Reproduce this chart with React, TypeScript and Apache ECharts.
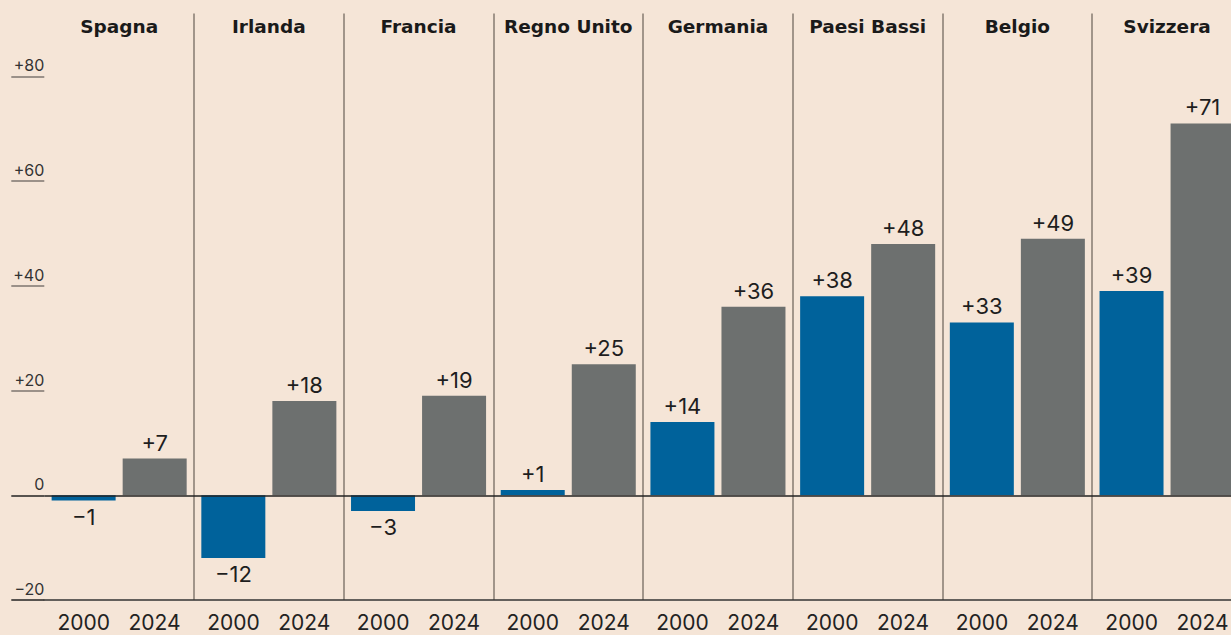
import React, { useEffect, useRef } from "react";
import * as echarts from "echarts";

const countries = ["Spagna", "Irlanda", "Francia", "Regno Unito", "Germania", "Paesi Bassi", "Belgio", "Svizzera"];
const years = ["2000", "2024"];
const values2000 = [-1, -12, -3, 1, 14, 38, 33, 39];
const values2024 = [7, 18, 19, 25, 36, 48, 49, 71];
const yTickValues = [-20, 0, 20, 40, 60, 80];

const FONT = "Inter, 'Noto Sans', sans-serif";
const BOLD_FONT = "'DejaVu Sans', sans-serif";

const fmt = (v: number) => (v > 0 ? "+" + v : v < 0 ? "\u2212" + Math.abs(v) : "0");

export default function App() {
  const ref = useRef<HTMLDivElement>(null);
  useEffect(() => {
    document.body.style.margin = "0";
    const chart = echarts.init(ref.current!, null, { renderer: "svg" });
    const yearCats: string[] = [];
    countries.forEach(() => years.forEach((y) => yearCats.push(y)));
    const mkData = (arr: number[]) =>
      arr.map((v) => ({ value: v, label: { position: v < 0 ? "bottom" : "top" } }));
    const labelStyle = {
      show: true,
      formatter: (p: any) => fmt(p.value),
      fontFamily: FONT,
      fontSize: 22,
      color: "#1e1e1e",
      distance: 5,
    };
    chart.setOption({
      animation: false,
      backgroundColor: "#F5E5D7",
      textStyle: { fontFamily: FONT },
      grid: {
        left: 44.3,
        top: 13.5,
        width: 1197.6,
        height: 586.5,
        outerBoundsMode: "none",
        containLabel: false,
      },
      xAxis: [
        {
          type: "category",
          data: countries,
          position: "top",
          axisLine: { show: false, onZero: false },
          axisTick: { show: false },
          axisLabel: {
            inside: true,
            margin: 3,
            fontFamily: BOLD_FONT,
            fontSize: 18.5,
            fontWeight: "bold",
            color: "#1a1a1a",
            interval: 0,
          },
          splitLine: { show: true, showMinLine: false, lineStyle: { color: "#857a71", width: 1.5 } },
        },
        {
          type: "category",
          data: yearCats,
          position: "bottom",
          axisLine: { show: true, onZero: false, lineStyle: { color: "#333333", width: 1.5 } },
          axisTick: { show: false },
          splitLine: { show: false },
          axisLabel: {
            interval: 0,
            margin: 12,
            formatter: (v: string) => (v === "2000" ? "{a|" + v + "}" : "{b|" + v + "}"),
            rich: {
              a: { fontFamily: FONT, fontSize: 21, color: "#222222", padding: [0, 0, 0, 4] },
              b: { fontFamily: FONT, fontSize: 21, color: "#222222", padding: [0, 4, 0, 0] },
            },
          },
        },
      ],
      yAxis: [
        {
          type: "value",
          min: -20,
          max: 92,
          position: "left",
          axisLine: { show: false },
          splitLine: { show: false },
          axisTick: {
            show: true,
            inside: false,
            length: 33,
            customValues: [20, 40, 60, 80],
            lineStyle: { color: "#7d756f", width: 1.5 },
          },
          axisLabel: {
            show: true,
            customValues: yTickValues,
            formatter: (v: number) => fmt(v),
            margin: 0,
            align: "right",
            verticalAlign: "bottom",
            padding: [0, 0, 3, 0],
            fontFamily: FONT,
            fontSize: 16,
            color: "#333333",
          },
        },
        {
          type: "value",
          min: -20,
          max: 92,
          position: "left",
          axisLine: { show: false },
          splitLine: { show: false },
          axisLabel: { show: false },
          axisTick: {
            show: true,
            inside: false,
            length: 33,
            customValues: [0, -20],
            lineStyle: { color: "#222222", width: 1.5 },
          },
        },
      ],
      series: [
        {
          name: years[0],
          type: "bar",
          xAxisIndex: 0,
          yAxisIndex: 0,
          data: mkData(values2000),
          barWidth: 64,
          barGap: "11%",
          itemStyle: { color: "#00629B" },
          label: labelStyle,
          markLine: {
            silent: true,
            symbol: "none",
            label: { show: false },
            lineStyle: { color: "#222222", width: 1.5, type: "solid" },
            data: [{ yAxis: 0 }],
          },
        },
        {
          name: years[1],
          type: "bar",
          xAxisIndex: 0,
          yAxisIndex: 0,
          data: mkData(values2024),
          barWidth: 64,
          barGap: "11%",
          itemStyle: { color: "#6D706F" },
          label: labelStyle,
        },
      ],
    });
    return () => chart.dispose();
  }, []);
  return (
    <div
      ref={ref}
      style={{ position: "fixed", left: 0, top: 0, width: 1231, height: 635, background: "#F5E5D7" }}
    />
  );
}
